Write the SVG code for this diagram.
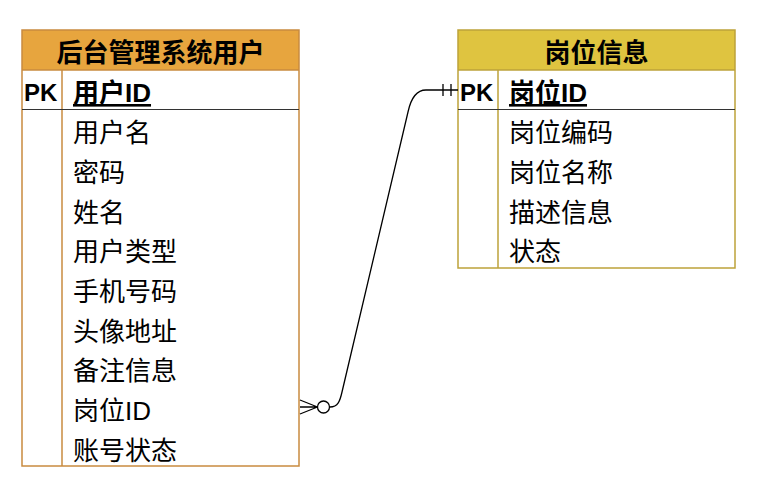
<svg xmlns="http://www.w3.org/2000/svg" width="760" height="487" viewBox="0 0 760 487">
<style>
text{font-family:"Liberation Sans","Noto Sans CJK SC",sans-serif;font-size:26px;fill:#000}
.b{font-weight:bold}
.pk{font-weight:bold;font-size:24px}
.t{text-anchor:middle;font-weight:bold}
.u{text-decoration:underline}
.sep{stroke:#333;stroke-width:1.2}
.o{fill:none;stroke:#C98B3F;stroke-width:1.5}
.y{fill:none;stroke:#BDA23A;stroke-width:1.5}
.ln{fill:none;stroke:#000;stroke-width:1.3}
</style>
<rect width="760" height="487" fill="#fff"/>
<g id="user">
<rect x="22" y="30" width="277" height="40" fill="#E7A53E"/>
<rect x="22" y="30" width="277" height="436" class="o"/>
<line x1="22" y1="70" x2="299" y2="70" class="o"/>
<line x1="62" y1="70" x2="62" y2="466" class="o"/>
<line x1="22" y1="109.5" x2="299" y2="109.5" class="sep"/>
<text x="160.5" y="62" class="t">后台管理系统用户</text>
<text x="24" y="101" class="pk">PK</text>
<text x="73" y="102" class="b u">用户ID</text>
<text x="73" y="142">用户名</text>
<text x="73" y="182">密码</text>
<text x="73" y="221.5">姓名</text>
<text x="73" y="261">用户类型</text>
<text x="73" y="301">手机号码</text>
<text x="73" y="341">头像地址</text>
<text x="73" y="380">备注信息</text>
<text x="73" y="420">岗位ID</text>
<text x="73" y="460">账号状态</text>
</g>
<g id="post">
<rect x="458" y="30" width="277" height="40" fill="#DFC440"/>
<rect x="458" y="30" width="277" height="238" class="y"/>
<line x1="458" y1="70" x2="735" y2="70" class="y"/>
<line x1="498" y1="70" x2="498" y2="268" class="y"/>
<line x1="458" y1="109.5" x2="735" y2="109.5" class="sep"/>
<text x="596.5" y="62" class="t">岗位信息</text>
<text x="460" y="101" class="pk">PK</text>
<text x="509" y="102" class="b u">岗位ID</text>
<text x="509" y="142">岗位编码</text>
<text x="509" y="182">岗位名称</text>
<text x="509" y="221.5">描述信息</text>
<text x="509" y="261">状态</text>
</g>
<g id="connectors">
<path class="ln" d="M330,407 C338,407 340,401 342,392 L408,112 C411,98 416,90 426,90 L458,90"/>
<circle cx="323.5" cy="407" r="6" fill="#fff" stroke="#000" stroke-width="1.3"/>
<path class="ln" d="M300,400 L317.5,407 M300,407 L317.5,407 M300,414 L317.5,407"/>
<path class="ln" d="M443,84 L443,96 M451,84 L451,96"/>
</g>
</svg>
